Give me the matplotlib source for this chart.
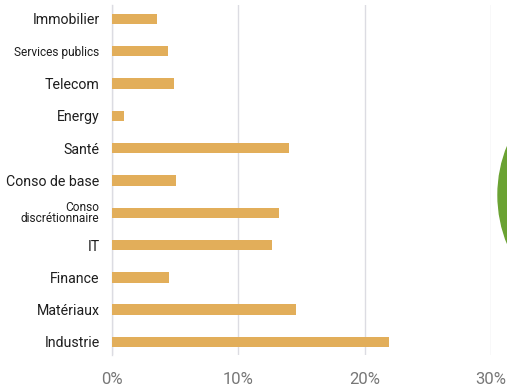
import matplotlib
matplotlib.use('Agg')
import matplotlib.pyplot as plt
from matplotlib.patches import Circle

# sector weights (%), bottom to top
sectors = ['Industrie', 'Matériaux', 'Finance', 'IT', 'Conso\ndiscrétionnaire',
           'Conso de base', 'Santé', 'Energy', 'Telecom', 'Services publics', 'Immobilier']
weights = [21.9, 14.6, 4.5, 12.7, 13.2, 5.1, 14.0, 0.95, 4.9, 4.4, 3.6]
small_labels = ['Services publics', 'Conso\ndiscrétionnaire']
xticks = [0, 10, 20, 30]
xtick_labels = ['0%', '10%', '20%', '30%']

plt.rcParams['font.family'] = ['Roboto', 'DejaVu Sans']

fig = plt.figure(figsize=(5.07, 3.87), dpi=100)
ax = fig.add_axes([0.221, 0.083, 0.747, 0.904])

pos = list(range(len(sectors)))
ax.barh(pos, weights, height=0.32, color='#E2AE5A', zorder=3)

ax.set_xlim(0, 30)
ax.set_ylim(-0.40, 10.43)
ax.set_xticks(xticks)
ax.set_xticklabels(xtick_labels, fontsize=12, color='#777777')
ax.set_yticks(pos)
ax.set_yticklabels(sectors, fontsize=10.2, color='#1e1e1e')
for lbl in ax.get_yticklabels():
    if lbl.get_text() in small_labels:
        lbl.set_fontsize(8.6)
        lbl.set_linespacing(0.8)

ax.tick_params(axis='both', length=0)
ax.tick_params(axis='y', pad=9)
ax.tick_params(axis='x', pad=12)
for s in ax.spines.values():
    s.set_visible(False)
ax.grid(axis='x', color='#dcdce2', linewidth=1.0, zorder=0)
ax.axvline(0, color='#dcdce2', linewidth=1.0, zorder=0, clip_on=False)

# edge of the neighbouring green chart, cut off at the right border
fig.patches.append(Circle((628, 192), 130, transform=None, color='#6aa232',
                          figure=fig))

fig.savefig('out.png', dpi=100)
